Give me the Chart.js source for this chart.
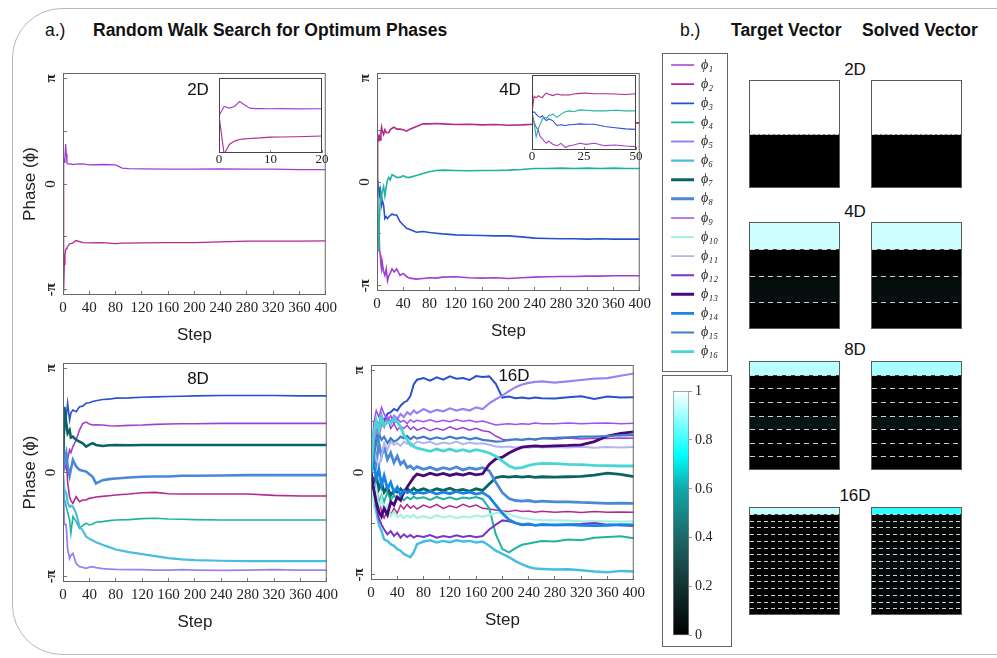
<!DOCTYPE html>
<html>
<head>
<meta charset="utf-8">
<script src="https://cdn.jsdelivr.net/npm/chart.js@4.4.0/dist/chart.umd.min.js"></script>
<style>
  body { margin: 0; width: 997px; height: 658px; overflow: hidden; position: relative; background: #fff;
         font-family: "Liberation Sans", Arial, sans-serif; color: #111; }
  canvas { position: absolute; }
  .frame { position: absolute; left: 12px; top: 8px; width: 1100px; height: 645px; border: 1px solid #b8b8b8; border-radius: 50px; }
  .t { position: absolute; white-space: nowrap; line-height: 1; }
  .b { font-weight: bold; font-size: 17.5px; }
  .c { transform: translateX(-50%); font-size: 17px; }
  .box { position: absolute; border: 1px solid #666; box-sizing: border-box; }
</style>
</head>
<body>
<div class="frame"></div>

<div class="t" style="left:45px;top:22px;font-size:17.5px">a.)</div>
<div class="t b" style="left:93px;top:22px">Random Walk Search for Optimum Phases</div>
<div class="t" style="left:680px;top:22px;font-size:17.5px">b.)</div>
<div class="t b" style="left:731px;top:22px">Target Vector</div>
<div class="t b" style="left:862px;top:22px">Solved Vector</div>

<canvas id="c2" width="330" height="290" style="left:15px;top:60px"></canvas>
<canvas id="c2i" width="123" height="97" style="left:209px;top:76px"></canvas>
<canvas id="c4" width="330" height="286" style="left:329px;top:60px"></canvas>
<canvas id="c4i" width="124" height="97" style="left:522px;top:73px"></canvas>
<canvas id="c8" width="331" height="287" style="left:15px;top:350px"></canvas>
<canvas id="c16" width="330" height="283" style="left:323px;top:352px"></canvas>

<div class="t c" style="left:198px;top:81px">2D</div>
<div class="t c" style="left:510px;top:81px">4D</div>
<div class="t c" style="left:198px;top:370px">8D</div>
<div class="t c" style="left:514px;top:367px">16D</div>

<div class="box" style="left:662px;top:53px;width:66px;height:319px"></div>
<canvas id="legend" width="66" height="319" style="left:662px;top:53px"></canvas>
<div class="box" style="left:662px;top:375px;width:70px;height:272px"></div>
<canvas id="cbar" width="70" height="272" style="left:662px;top:375px"></canvas>

<div class="t c" style="left:855px;top:61px">2D</div>
<div class="t c" style="left:855px;top:203px">4D</div>
<div class="t c" style="left:855px;top:341px">8D</div>
<div class="t c" style="left:855px;top:487px">16D</div>
<canvas id="h2t" width="91" height="108" style="left:749px;top:80px"></canvas>
<canvas id="h2s" width="91" height="108" style="left:871px;top:80px"></canvas>
<canvas id="h4t" width="91" height="107" style="left:749px;top:222px"></canvas>
<canvas id="h4s" width="91" height="107" style="left:871px;top:222px"></canvas>
<canvas id="h8t" width="91" height="109" style="left:749px;top:361px"></canvas>
<canvas id="h8s" width="91" height="109" style="left:871px;top:361px"></canvas>
<canvas id="h16t" width="91" height="108" style="left:749px;top:507px"></canvas>
<canvas id="h16s" width="91" height="108" style="left:871px;top:507px"></canvas>

<script>
// ---- tick labels ----
const stepTicks = [0, 40, 80, 120, 160, 200, 240, 280, 320, 360, 400];
const phaseTicks = [-Math.PI, -Math.PI / 2, 0, Math.PI / 2, Math.PI];
const phaseTickLabels = ['-π', '', '0', '', 'π'];
const inset2Ticks = [0, 10, 20];
const inset4Ticks = [0, 25, 50];
const cbarTicks = [0, 0.2, 0.4, 0.6, 0.8, 1];
const cbarTickLabels = ['0', '0.2', '0.4', '0.6', '0.8', '1'];
const phaseNames = ['ϕ₁', 'ϕ₂', 'ϕ₃', 'ϕ₄', 'ϕ₅', 'ϕ₆', 'ϕ₇', 'ϕ₈', 'ϕ₉', 'ϕ₁₀', 'ϕ₁₁', 'ϕ₁₂', 'ϕ₁₃', 'ϕ₁₄', 'ϕ₁₅', 'ϕ₁₆'];

// ---- 2D phases (rad) ----
const steps2 = [0, 1, 2, 3, 4, 5, 6, 7, 8, 10, 12, 15, 20, 30, 40, 60, 80, 90, 100, 120, 160, 200, 240, 280, 320, 360, 400];
const p2_1 = [0, 0.78, 0.64, 0.78, 1.19, 0.9, 0.64, 0.6, 0.6, 0.59, 0.6, 0.58, 0.59, 0.6, 0.57, 0.58, 0.57, 0.47, 0.46, 0.45, 0.44, 0.44, 0.45, 0.44, 0.44, 0.43, 0.43];
const p2_2 = [0, -3.2, -2.39, -2.11, -1.97, -1.92, -1.89, -1.86, -1.84, -1.78, -1.77, -1.75, -1.68, -1.74, -1.75, -1.74, -1.77, -1.76, -1.76, -1.75, -1.74, -1.74, -1.72, -1.7, -1.7, -1.7, -1.69];

// ---- 4D phases (rad) ----
const steps4 = [0, 1, 2, 3, 4, 5, 6, 7, 8, 10, 12, 14, 16, 18, 20, 23, 26, 30, 35, 40, 45, 50, 60, 70, 80, 90, 100, 120, 140, 160, 180, 200, 220, 240, 260, 280, 300, 320, 340, 360, 380, 400];
const p4_1 = [0, -0.83, -1.25, -1.52, -2.08, -2.22, -2.49, -2.63, -2.44, -2.71, -2.83, -2.63, -2.99, -2.83, -2.77, -2.63, -2.72, -2.63, -2.83, -2.77, -2.86, -2.91, -2.94, -2.92, -2.9, -2.91, -2.88, -2.87, -2.9, -2.91, -2.9, -2.92, -2.9, -2.88, -2.87, -2.86, -2.86, -2.85, -2.85, -2.84, -2.84, -2.84];
const p4_2 = [0, 1.39, 1.25, 1.44, 1.33, 1.27, 1.52, 1.66, 1.55, 1.44, 1.58, 1.5, 1.49, 1.5, 1.58, 1.63, 1.66, 1.6, 1.6, 1.58, 1.54, 1.6, 1.68, 1.76, 1.76, 1.77, 1.76, 1.74, 1.75, 1.73, 1.74, 1.72, 1.73, 1.75, 1.76, 1.77, 1.76, 1.78, 1.77, 1.78, 1.79, 1.79];
const p4_3 = [0, 0.05, -0.14, -0.33, -0.42, -0.28, -0.55, -0.69, -0.55, -0.69, -1.11, -1.05, -1.11, -1.05, -1.02, -0.97, -1.0, -1.0, -1.2, -1.3, -1.4, -1.44, -1.52, -1.5, -1.53, -1.55, -1.57, -1.6, -1.61, -1.62, -1.63, -1.63, -1.66, -1.7, -1.71, -1.72, -1.72, -1.73, -1.72, -1.73, -1.73, -1.73];
const p4_4 = [0, -0.97, -2.08, -1.39, -0.97, -0.55, -0.42, -0.5, -0.28, -0.14, -0.42, -0.14, 0.06, 0.14, 0.06, 0.22, 0.19, 0.14, 0.14, 0.19, 0.14, 0.14, 0.2, 0.26, 0.31, 0.35, 0.36, 0.35, 0.34, 0.35, 0.35, 0.36, 0.38, 0.41, 0.41, 0.42, 0.41, 0.42, 0.41, 0.42, 0.41, 0.41];

// ---- 8D phases (rad) ----
const steps8 = [0, 2, 5, 7, 10, 12, 15, 20, 25, 30, 35, 40, 45, 50, 60, 70, 80, 100, 120, 140, 160, 180, 200, 240, 280, 320, 360, 400];
const p8_1 = [0, 0.3, 0.1, 0.4, 0.68, 0.6, 0.78, 0.98, 1.28, 1.48, 1.52, 1.46, 1.43, 1.44, 1.43, 1.41, 1.4, 1.42, 1.43, 1.45, 1.46, 1.47, 1.47, 1.48, 1.48, 1.48, 1.48, 1.48];
const p8_2 = [0, 0.2, 0.6, -0.3, -0.73, -0.85, -0.93, -0.73, -0.88, -0.83, -0.83, -0.78, -0.76, -0.74, -0.72, -0.7, -0.68, -0.65, -0.61, -0.6, -0.64, -0.65, -0.65, -0.65, -0.65, -0.69, -0.71, -0.71];
const p8_3 = [0, 1.2, 1.68, 2.09, 1.58, 1.8, 1.88, 1.83, 1.98, 2.0, 2.09, 2.1, 2.14, 2.16, 2.2, 2.21, 2.24, 2.25, 2.27, 2.28, 2.29, 2.3, 2.31, 2.32, 2.32, 2.32, 2.31, 2.31];
const p8_4 = [0, -0.8, -1.03, -1.2, -1.43, -1.83, -1.33, -1.48, -1.68, -1.6, -1.53, -1.58, -1.55, -1.5, -1.48, -1.45, -1.43, -1.42, -1.39, -1.38, -1.4, -1.41, -1.42, -1.43, -1.43, -1.43, -1.43, -1.43];
const p8_5 = [0, -1.5, -1.64, -2.3, -2.59, -2.5, -2.44, -2.74, -2.84, -2.86, -2.89, -2.85, -2.84, -2.87, -2.9, -2.91, -2.92, -2.93, -2.93, -2.94, -2.94, -2.93, -2.94, -2.95, -2.94, -2.93, -2.94, -2.94];
const p8_6 = [0, -0.5, -0.63, -0.9, -1.03, -1.0, -1.03, -1.23, -1.63, -1.75, -1.93, -2.0, -2.05, -2.1, -2.18, -2.25, -2.32, -2.4, -2.46, -2.52, -2.58, -2.62, -2.64, -2.66, -2.67, -2.67, -2.67, -2.67];
const p8_7 = [0, 1.98, 1.48, 1.18, 1.28, 1.05, 1.08, 0.98, 0.93, 0.88, 0.78, 0.84, 0.88, 0.83, 0.8, 0.82, 0.83, 0.82, 0.83, 0.83, 0.83, 0.83, 0.83, 0.83, 0.83, 0.83, 0.83, 0.83];
const p8_8 = [0, 0.3, 0.58, 0.2, -0.1, 0.1, 0.38, 0.18, 0.08, 0.05, 0.03, -0.05, -0.13, -0.33, -0.23, -0.2, -0.18, -0.15, -0.13, -0.12, -0.12, -0.1, -0.1, -0.09, -0.08, -0.08, -0.08, -0.08];

// ---- 16D phases (rad) ----
const steps16 = [0, 4, 8, 12, 16, 20, 25, 30, 35, 40, 45, 50, 55, 60, 65, 70, 80, 90, 100, 110, 120, 130, 140, 150, 160, 170, 180, 190, 200, 210, 220, 230, 240, 250, 260, 280, 300, 320, 340, 360, 380, 400];
const p16_1 = [0, 1.2, 1.6, 1.4, 1.8, 1.5, 1.7, 1.35, 1.5, 1.3, 1.42, 1.35, 1.45, 1.32, 1.4, 1.3, 1.38, 1.28, 1.36, 1.3, 1.4, 1.32, 1.38, 1.3, 1.36, 1.28, 1.25, 1.12, 1.02, 0.98, 1.02, 1.0, 1.04, 1.0, 1.05, 1.02, 1.06, 1.03, 1.05, 1.04, 1.06, 1.05];
const p16_2 = [0, -0.6, -1.0, -0.8, -1.2, -1.4, -1.15, -1.3, -1.1, -1.25, -1.0, -1.12, -0.98, -1.1, -1.02, -1.12, -1.0, -1.08, -0.98, -1.1, -1.02, -1.08, -0.98, -1.06, -1.0, -1.1, -1.12, -1.15, -1.18, -1.2, -1.16, -1.2, -1.18, -1.22, -1.19, -1.22, -1.2, -1.23, -1.2, -1.22, -1.21, -1.22];
const p16_3 = [0, 0.6, 1.2, 1.5, 1.7, 1.6, 1.8, 1.85, 1.95, 1.9, 2.05, 2.15, 2.2, 2.35, 2.7, 2.85, 2.9, 2.82, 2.92, 2.85, 2.95, 2.88, 2.9, 2.84, 2.96, 2.93, 2.95, 2.72, 2.3, 2.33, 2.28, 2.3, 2.27, 2.3, 2.28, 2.27, 2.31, 2.34, 2.26, 2.33, 2.3, 2.31];
const p16_4 = [0, -0.8, -0.4, -1.0, -0.7, -0.9, -0.6, -0.85, -0.7, -0.82, -0.75, -0.85, -0.76, -0.82, -0.74, -0.8, -0.76, -0.84, -0.75, -0.82, -0.76, -0.83, -0.77, -0.8, -0.75, -0.82, -1.1, -1.9, -2.35, -2.45, -2.32, -2.22, -2.18, -2.14, -2.1, -2.12, -2.06, -2.08, -2.0, -1.98, -1.96, -2.02];
const p16_5 = [0, 0.9, 1.3, 1.1, 1.5, 1.4, 1.7, 1.55, 1.75, 1.65, 1.8, 1.7, 1.85, 1.78, 1.9, 1.82, 1.95, 1.85, 1.92, 1.88, 1.97, 1.9, 1.95, 1.9, 2.0, 1.95, 2.12, 2.25, 2.36, 2.5, 2.62, 2.7, 2.75, 2.78, 2.8, 2.76, 2.8, 2.84, 2.88, 2.9, 2.97, 3.04];
const p16_6 = [0, -0.7, -1.2, -1.6, -1.8, -2.05, -2.1, -2.2, -2.25, -2.35, -2.4, -2.5, -2.55, -2.6, -2.45, -2.2, -2.12, -2.08, -2.15, -2.1, -2.14, -2.08, -2.12, -2.1, -2.15, -2.12, -2.25, -2.4, -2.5, -2.6, -2.72, -2.82, -2.9, -2.95, -2.96, -2.98, -2.97, -3.0, -3.04, -3.06, -3.02, -3.04];
const p16_7 = [0, -0.3, -0.1, -0.5, -0.3, -0.6, -0.45, -0.7, -0.55, -0.6, -0.5, -0.62, -0.5, -0.58, -0.48, -0.56, -0.5, -0.58, -0.5, -0.55, -0.48, -0.56, -0.52, -0.58, -0.5, -0.55, -0.35, -0.16, -0.12, -0.14, -0.12, -0.14, -0.12, -0.15, -0.13, -0.14, -0.13, -0.12, -0.08, -0.02, -0.06, -0.13];
const p16_8 = [0, 0.7, 0.3, 0.9, 0.5, 0.8, 0.4, 0.6, 0.3, 0.5, 0.25, 0.35, 0.15, 0.2, 0.1, 0.18, 0.1, 0.16, 0.08, 0.15, 0.1, 0.17, 0.08, 0.14, 0.1, 0.15, 0.05, -0.3, -0.62, -0.8, -0.86, -0.88, -0.86, -0.9, -0.88, -0.9, -0.9, -0.92, -0.93, -0.95, -0.94, -0.95];
const p16_9 = [0, 1.5, 1.9, 1.7, 2.0, 1.8, 1.6, 1.75, 1.5, 1.65, 1.55, 1.6, 1.5, 1.62, 1.55, 1.6, 1.56, 1.62, 1.55, 1.6, 1.56, 1.62, 1.57, 1.6, 1.55, 1.58, 1.52, 1.46, 1.48, 1.5, 1.47, 1.5, 1.48, 1.52, 1.5, 1.5, 1.52, 1.5, 1.51, 1.52, 1.5, 1.51];
const p16_10 = [0, -0.9, -0.5, -1.1, -0.8, -1.2, -1.0, -1.35, -1.2, -1.38, -1.3, -1.4, -1.32, -1.38, -1.3, -1.4, -1.34, -1.4, -1.32, -1.38, -1.33, -1.4, -1.35, -1.38, -1.32, -1.36, -1.3, -1.25, -1.22, -1.28, -1.35, -1.4, -1.42, -1.45, -1.46, -1.47, -1.48, -1.5, -1.49, -1.5, -1.51, -1.5];
const p16_11 = [0, 0.8, 0.4, 0.2, 0.5, 0.9, 0.7, 0.95, 0.85, 0.9, 0.82, 0.95, 0.88, 0.92, 0.85, 0.95, 0.9, 0.94, 0.86, 0.92, 0.88, 0.95, 0.87, 0.92, 0.88, 0.9, 0.85, 0.8, 0.78, 0.8, 0.76, 0.78, 0.76, 0.79, 0.77, 0.78, 0.77, 0.79, 0.76, 0.78, 0.77, 0.78];
const p16_12 = [0, -0.5, -1.0, -1.4, -1.6, -1.75, -1.9, -1.8, -1.95, -1.85, -2.0, -1.9, -1.98, -1.92, -2.0, -1.94, -1.98, -1.92, -2.0, -1.95, -1.99, -1.93, -1.98, -1.94, -1.99, -1.95, -1.75, -1.6, -1.47, -1.5, -1.55, -1.62, -1.6, -1.62, -1.6, -1.62, -1.6, -1.58, -1.55, -1.6, -1.62, -1.64];
const p16_13 = [0, -0.5, -0.9, -1.2, -1.35, -1.1, -1.3, -0.9, -1.0, -0.75, -0.85, -0.6, -0.45, -0.3, -0.15, -0.05, -0.1, -0.02, -0.08, -0.03, -0.09, -0.04, -0.08, -0.02, -0.07, -0.04, 0.25, 0.42, 0.47, 0.6, 0.7, 0.78, 0.8, 0.82, 0.8, 0.82, 0.83, 0.85, 0.95, 1.12, 1.2, 1.25];
const p16_14 = [0, 0.3, -0.2, 0.1, -0.4, -0.1, -0.5, -0.3, -0.6, -0.45, -0.7, -0.55, -0.62, -0.58, -0.66, -0.6, -0.64, -0.58, -0.66, -0.6, -0.65, -0.58, -0.64, -0.6, -0.66, -0.62, -0.75, -1.0, -1.25, -1.45, -1.55, -1.6, -1.58, -1.62, -1.6, -1.61, -1.6, -1.62, -1.63, -1.62, -1.6, -1.61];
const p16_15 = [0, 0.5, 0.9, 1.2, 1.0, 1.1, 0.9, 1.05, 0.95, 1.0, 1.1, 1.05, 1.12, 1.02, 1.1, 1.04, 1.1, 1.02, 1.08, 1.03, 1.1, 1.04, 1.08, 1.02, 1.06, 1.0, 0.98, 0.95, 0.96, 1.0, 1.02, 1.0, 1.03, 1.02, 1.05, 1.06, 1.08, 1.1, 1.1, 1.12, 1.14, 1.15];
const p16_16 = [0, 1.2, 1.6, 1.3, 1.7, 1.45, 1.55, 1.5, 1.65, 1.55, 1.4, 1.15, 1.0, 0.85, 0.8, 0.75, 0.7, 0.65, 0.72, 0.66, 0.72, 0.65, 0.7, 0.64, 0.7, 0.66, 0.6, 0.5, 0.35, 0.2, 0.13, 0.15, 0.22, 0.26, 0.28, 0.27, 0.25, 0.24, 0.22, 0.21, 0.2, 0.2];

// ---- target / solved vectors (0..1) ----
const hm2Target = [1.0, 0.0];
const hm2Solved = [1.0, 0.0];
const hm4Target = [0.95, 0.0, 0.05, 0.0];
const hm4Solved = [0.95, 0.0, 0.05, 0.0];
const hm8Target = [0.93, 0.0, 0.0, 0.0, 0.08, 0.0, 0.0, 0.0];
const hm8Solved = [0.91, 0.0, 0.0, 0.0, 0.07, 0.0, 0.0, 0.0];
const hm16Target = [0.94, 0, 0, 0, 0, 0, 0, 0, 0, 0, 0, 0, 0, 0, 0, 0];
const hm16Solved = [0.79, 0.04, 0.04, 0.02, 0.0, 0.02, 0.02, 0.04, 0.05, 0.03, 0.02, 0.02, 0.02, 0.02, 0.02, 0.02];

// ---- styles ----
const phaseColors = ['#a040d0', '#b02a8f', '#2850d0', '#20b3a0', '#9a82f2', '#48bde0', '#0a6464', '#4a88d8',
                     '#a050ee', '#a8f2e4', '#b4b4f0', '#7636c6', '#480878', '#1884e4', '#3e7ec8', '#48d6d2'];
const width16 = [1.5, 1.5, 2, 2, 2.2, 2.5, 2.8, 2.8, 1.5, 2.2, 2, 2, 2.8, 2.8, 2.2, 2.8];
const legendWidths = [1.5, 1.8, 1.8, 1.8, 1.8, 2.2, 3, 3, 1.5, 2, 1.8, 2, 3, 2.6, 2.2, 2.6];
const cmapPos = [0, 0.2, 0.4, 0.6, 0.74, 1];
const cmapRGB = [[0, 0, 0], [18, 50, 50], [30, 102, 102], [16, 168, 168], [0, 255, 255], [255, 255, 255]];
const SANS = '"Liberation Sans", Arial, sans-serif';
const SERIF = '"Liberation Serif", "Times New Roman", "DejaVu Serif", serif';
Chart.defaults.font.family = SERIF;
Chart.defaults.color = '#222';

function cmap(v) {
  let i = 0;
  while (i < cmapPos.length - 2 && v > cmapPos[i + 1]) i++;
  const f = Math.min(1, Math.max(0, (v - cmapPos[i]) / (cmapPos[i + 1] - cmapPos[i])));
  const c = cmapRGB[i].map((a, k) => Math.round(a + (cmapRGB[i + 1][k] - a) * f));
  return `rgb(${c[0]},${c[1]},${c[2]})`;
}

// box around the plot area (optionally filled)
const framePlugin = {
  id: 'frame',
  beforeDraw(chart, args, o) {
    if (!o.fill) return;
    const a = chart.chartArea;
    chart.ctx.save();
    chart.ctx.fillStyle = o.fill;
    chart.ctx.fillRect(a.left, a.top, a.width, a.height);
    chart.ctx.restore();
  },
  afterDraw(chart, args, o) {
    const {ctx, chartArea: a} = chart;
    ctx.save();
    ctx.strokeStyle = o.color || '#666';
    ctx.lineWidth = 1;
    ctx.strokeRect(a.left + 0.5, a.top + 0.5, a.width - 1, a.height - 1);
    ctx.restore();
  }
};

// rotated -π / 0 / π labels on the phase axis
const phaseLabelPlugin = {
  id: 'phaseLabels',
  afterDraw(chart) {
    const {ctx, chartArea, scales} = chart;
    ctx.save();
    ctx.fillStyle = '#222';
    ctx.textAlign = 'center';
    ctx.textBaseline = 'middle';
    phaseTicks.forEach((v, i) => {
      const lbl = phaseTickLabels[i];
      if (!lbl) return;
      ctx.font = (lbl === '0' ? '' : 'bold ') + '15px ' + SERIF;
      ctx.save();
      ctx.translate(chartArea.left - 12, scales.y.getPixelForValue(v));
      ctx.rotate(-Math.PI / 2);
      ctx.fillText(lbl, 0, 0);
      ctx.restore();
    });
    ctx.restore();
  }
};

// dashed separators between vector components
const rowLinesPlugin = {
  id: 'rows',
  afterDatasetsDraw(chart, args, o) {
    const {ctx, chartArea: a, scales} = chart;
    ctx.save();
    ctx.strokeStyle = '#d0d0d0';
    ctx.lineWidth = 1;
    ctx.setLineDash(o.dash || [4, 3]);
    for (let k = 1; k < o.n; k++) {
      const y = Math.round(scales.y.getPixelForValue(k)) + 0.5;
      ctx.beginPath();
      ctx.moveTo(a.left + 1, y);
      ctx.lineTo(a.right - 1, y);
      ctx.stroke();
    }
    ctx.restore();
  }
};

function makeDatasets(steps, series, widths) {
  return series.map((vals, i) => ({
    label: phaseNames[i],
    data: vals.map((v, k) => ({x: steps[k], y: v})),
    borderColor: phaseColors[i],
    borderWidth: widths[i],
    pointRadius: 0,
    tension: 0,
    order: series.length - i
  }));
}

function phaseChart(id, steps, series, widths, yTitle) {
  new Chart(document.getElementById(id), {
    type: 'line',
    data: {datasets: makeDatasets(steps, series, widths)},
    options: {
      responsive: false, animation: false, events: [],
      layout: {padding: {top: 13, right: 13, left: 0, bottom: 0}},
      plugins: {legend: {display: false}, tooltip: {enabled: false}, frame: {color: '#666'}},
      scales: {
        x: {
          type: 'linear', min: 0, max: 400,
          afterFit: s => { s.height = 55; },
          afterBuildTicks: s => { s.ticks = stepTicks.map(v => ({value: v})); },
          ticks: {autoSkip: false, maxRotation: 0, padding: 8, color: '#222', font: {family: SERIF, size: 15}},
          grid: {drawOnChartArea: false, tickLength: -4, color: '#777'},
          border: {display: false},
          title: {display: true, text: 'Step', color: '#222', font: {family: SANS, size: 17}, padding: {top: 0, bottom: 4}}
        },
        y: {
          min: -3.3, max: 3.3,
          afterFit: s => { s.width = 48; },
          afterBuildTicks: s => { s.ticks = phaseTicks.map(v => ({value: v})); },
          ticks: {display: false},
          grid: {drawOnChartArea: false, tickLength: -4, color: '#777'},
          border: {display: false},
          title: {display: !!yTitle, text: yTitle || '', color: '#222', font: {family: SANS, size: 17}, padding: {top: 5, bottom: 0}}
        }
      }
    },
    plugins: [framePlugin, phaseLabelPlugin]
  });
}

function insetChart(id, steps, series, widths, xMax, ticks, yMin, yMax) {
  new Chart(document.getElementById(id), {
    type: 'line',
    data: {datasets: makeDatasets(steps, series, widths)},
    options: {
      responsive: false, animation: false, events: [],
      layout: {padding: {top: 2, right: 10, left: 10, bottom: 0}},
      plugins: {legend: {display: false}, tooltip: {enabled: false}, frame: {color: '#444', fill: '#fff'}},
      scales: {
        x: {
          type: 'linear', min: 0, max: xMax,
          afterFit: s => { s.height = 20; },
          afterBuildTicks: s => { s.ticks = ticks.map(v => ({value: v})); },
          ticks: {autoSkip: false, maxRotation: 0, padding: 2, color: '#222', font: {family: SERIF, size: 13}},
          grid: {drawOnChartArea: false, tickLength: -3, color: '#777'},
          border: {display: false}
        },
        y: {display: false, min: yMin, max: yMax}
      }
    },
    plugins: [framePlugin]
  });
}

function heatmap(id, values, dash) {
  new Chart(document.getElementById(id), {
    type: 'bar',
    data: {
      labels: [''],
      datasets: values.map(v => ({data: [1], backgroundColor: cmap(v), borderWidth: 0,
                                  barPercentage: 1, categoryPercentage: 1, inflateAmount: 0.5}))
    },
    options: {
      responsive: false, animation: false, events: [],
      layout: {padding: 0},
      plugins: {legend: {display: false}, tooltip: {enabled: false}, rows: {n: values.length, dash}, frame: {color: '#5a5a5a'}},
      scales: {
        x: {display: false, stacked: true},
        y: {display: false, stacked: true, min: 0, max: values.length, reverse: true}
      }
    },
    plugins: [rowLinesPlugin, framePlugin]
  });
}

// ---- phase plots ----
phaseChart('c2', steps2, [p2_1, p2_2], [1.3, 1.3], 'Phase (ϕ)');
insetChart('c2i', steps2, [p2_1, p2_2], [1.1, 1.1], 20, inset2Ticks, -3.1, 3.15);
phaseChart('c4', steps4, [p4_1, p4_2, p4_3, p4_4], [1.6, 1.6, 1.6, 1.6], '');
insetChart('c4i', steps4, [p4_1, p4_2, p4_3, p4_4], [1.1, 1.1, 1.1, 1.1], 50, inset4Ticks, -3.2, 3.2);
phaseChart('c8', steps8, [p8_1, p8_2, p8_3, p8_4, p8_5, p8_6, p8_7, p8_8], [1.6, 1.6, 1.6, 1.6, 1.8, 2.2, 2.6, 2.6], 'Phase (ϕ)');
phaseChart('c16', steps16, [p16_1, p16_2, p16_3, p16_4, p16_5, p16_6, p16_7, p16_8,
                            p16_9, p16_10, p16_11, p16_12, p16_13, p16_14, p16_15, p16_16], width16, '');

// ---- legend ----
new Chart(document.getElementById('legend'), {
  type: 'line',
  data: {datasets: phaseNames.map((n, i) => ({label: n, data: [], borderColor: phaseColors[i],
                                               backgroundColor: phaseColors[i], borderWidth: legendWidths[i]}))},
  options: {
    responsive: false, animation: false, events: [],
    layout: {padding: {left: 4}},
    scales: {x: {display: false}, y: {display: false}},
    plugins: {
      tooltip: {enabled: false},
      legend: {position: 'top', align: 'start', maxHeight: 340,
               labels: {boxWidth: 23, boxHeight: 0, padding: 5.1, color: '#222',
                        font: {family: SERIF, size: 14, style: 'italic'}}}
    }
  }
});

// ---- colour bar ----
new Chart(document.getElementById('cbar'), {
  type: 'bar',
  data: {
    labels: [''],
    datasets: [{
      data: [[0, 1]],
      backgroundColor: c => {
        const a = c.chart.chartArea;
        if (!a) return '#000';
        const g = c.chart.ctx.createLinearGradient(0, a.bottom, 0, a.top);
        cmapPos.forEach(p => g.addColorStop(p, cmap(p)));
        return g;
      },
      borderColor: '#888', borderWidth: 1, borderSkipped: false,
      barPercentage: 1, categoryPercentage: 1
    }]
  },
  options: {
    responsive: false, animation: false, events: [],
    layout: {padding: {left: 11, top: 16, bottom: 10, right: 0}},
    plugins: {legend: {display: false}, tooltip: {enabled: false}},
    scales: {
      x: {display: false},
      y: {
        position: 'right', min: 0, max: 1,
        afterFit: s => { s.width = 43; },
        afterBuildTicks: s => { s.ticks = cbarTicks.map(v => ({value: v})); },
        ticks: {padding: 3, color: '#222', font: {family: SERIF, size: 14},
                callback: (v, i) => cbarTickLabels[i]},
        grid: {drawOnChartArea: false, tickLength: 3, color: '#999'},
        border: {display: false}
      }
    }
  }
});

// ---- target / solved vectors ----
heatmap('h2t', hm2Target, [3, 2]);
heatmap('h2s', hm2Solved, [3, 2]);
heatmap('h4t', hm4Target, [5, 4]);
heatmap('h4s', hm4Solved, [5, 4]);
heatmap('h8t', hm8Target, [5, 4]);
heatmap('h8s', hm8Solved, [5, 4]);
heatmap('h16t', hm16Target, [4, 3]);
heatmap('h16s', hm16Solved, [4, 3]);
</script>
</body>
</html>
